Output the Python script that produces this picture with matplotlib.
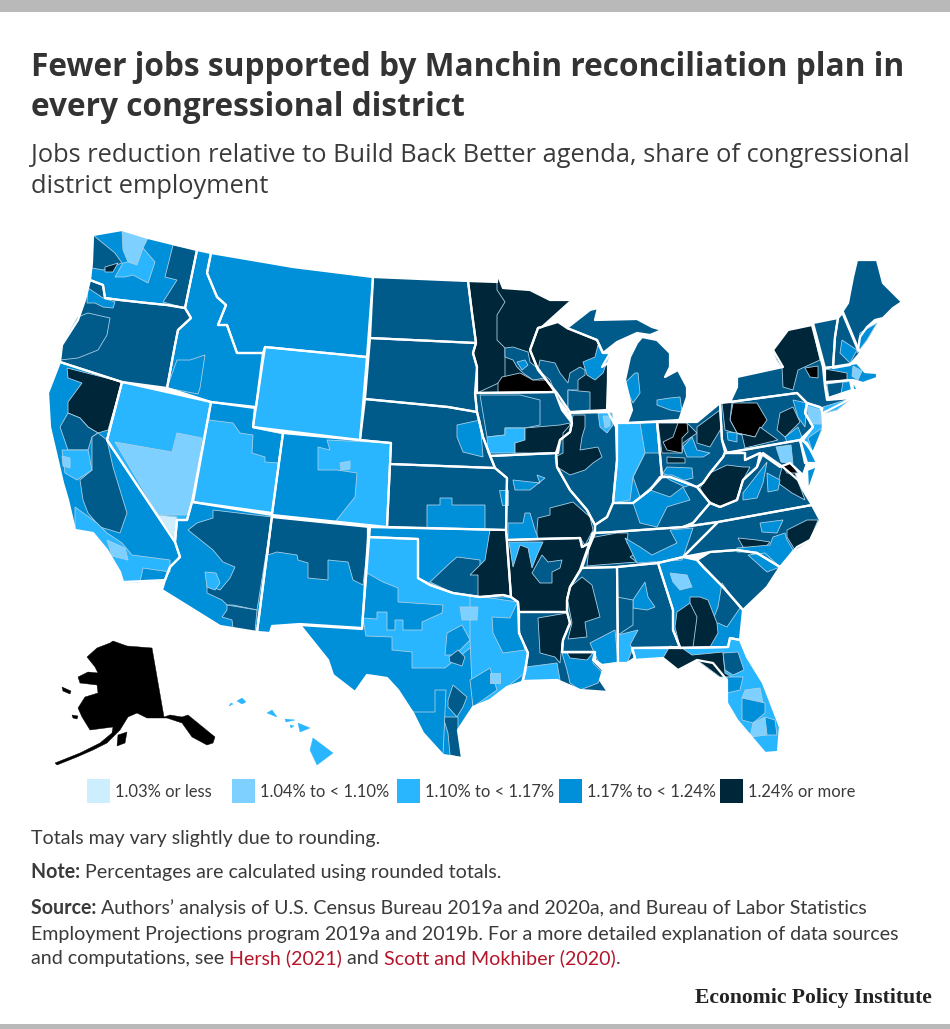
import matplotlib
matplotlib.use("Agg")
import matplotlib.pyplot as plt
from matplotlib.patches import Polygon, Rectangle

# colour classes, lightest to darkest (4 and 6 appear on the map only)
colors = ["#cceeff", "#7dd0ff", "#29b6ff", "#008fd9", "#005a8a", "#00263a", "#000000"]
legend_labels = ["1.03% or less", "1.04% to < 1.10%", "1.10% to < 1.17%", "1.17% to < 1.24%", "1.24% or more"]
legend_classes = [0, 1, 2, 3, 5]
legend_x = [87, 232, 397, 559, 720]

# state outlines in map units
wa = [(93,235),(122,230),(148,238),(197,250),(185,308),(167,305),(147,303),(120,300),(105,298),(103,285),(90,280),(92,262)]
or_ = [(90,280),(103,285),(105,298),(120,300),(147,303),(167,305),(185,308),(191,318),(178,330),(175,345),(167,388),(122,382),(60,362),(62,345),(78,320),(85,300)]
id_ = [(197,250),(211,253),(207,273),(217,297),(226,305),(218,325),(227,325),(237,353),(263,353),(256,407),(211,402),(167,388),(175,345),(178,330),(191,318),(185,308)]
mt = [(211,253),(293,267),(373,277),(367,357),(265,347),(263,353),(237,353),(227,325),(218,325),(226,305),(217,297),(207,273)]
wy = [(265,347),(367,357),(360,440),(253,427)]
nd = [(373,277),(468,281),(472,313),(476,343),(370,338)]
sd = [(370,338),(476,343),(473,353),(477,367),(475,393),(477,412),(448,407),(365,399)]
ne = [(365,399),(448,407),(477,412),(483,437),(495,468),(390,464),(391,443),(360,440)]
ks = [(390,464),(495,468),(507,478),(506,530),(387,527)]
ok = [(368,527),(506,530),(511,597),(503,595),(480,597),(453,593),(430,585),(418,578),(418,539),(368,537)]
tx = [(368,537),(418,539),(418,578),(430,585),(453,593),(480,597),(503,595),(511,597),(518,602),(519,633),(528,653),(525,673),(522,682),(507,687),(490,700),(473,707),(458,730),(462,758),(443,755),(423,733),(413,713),(398,690),(387,678),(367,675),(355,692),(333,675),(328,660),(312,640),(300,625),(362,629)]
nm = [(272,517),(370,527),(362,628),(300,624),(272,626),(270,633),(257,632)]
co = [(283,433),(391,443),(387,527),(272,515)]
ut = [(211,402),(255,408),(253,427),(283,433),(272,513),(193,502)]
az = [(192,502),(272,515),(257,632),(220,626),(162,590),(165,580),(170,567),(180,557),(175,542),(177,520),(187,520)]
nv = [(122,382),(211,402),(192,502),(187,520),(177,520),(175,542),(147,500),(107,440)]
ca = [(60,362),(122,382),(107,440),(147,500),(175,542),(180,557),(170,567),(165,580),(123,582),(120,572),(107,550),(93,533),(75,530),(68,500),(63,483),(50,427),(48,393)]
mn = [(468,281),(497,282),(497,273),(503,288),(530,290),(550,300),(572,300),(542,327),(538,328),(530,350),(537,367),(555,392),(477,393),(477,367),(473,353),(476,343),(472,313)]
ia = [(477,393),(555,392),(557,397),(562,410),(572,423),(570,432),(560,440),(558,453),(490,456),(483,437),(477,412),(475,393)]
mo = [(490,456),(556,453),(557,467),(570,490),(587,510),(595,525),(595,530),(590,543),(582,547),(580,538),(507,540),(506,530),(507,478),(495,468)]
ar = [(507,540),(580,538),(582,547),(590,543),(593,533),(587,550),(580,570),(570,587),(567,600),(567,612),(519,612),(518,602),(511,597)]
la = [(519,612),(567,612),(570,623),(563,640),(562,652),(595,652),(593,660),(603,670),(600,680),(608,692),(580,690),(557,680),(523,681),(528,653),(519,633)]
ms = [(582,568),(617,567),(618,663),(602,665),(595,660),(595,652),(562,652),(563,640),(570,623),(567,612),(567,600),(570,587)]
al = [(617,567),(658,563),(673,610),(673,630),(680,647),(632,648),(635,658),(627,663),(618,663)]
tn = [(582,568),(588,550),(595,533),(613,532),(683,527),(718,522),(710,530),(683,557),(658,563),(617,567)]
ky = [(595,533),(595,525),(607,517),(613,503),(633,503),(650,490),(660,477),(670,477),(697,487),(710,503),(693,523),(683,527),(613,532)]
il = [(570,413),(608,412),(616,427),(617,460),(613,503),(607,517),(595,525),(587,510),(570,490),(557,467),(556,453),(560,440),(570,432),(572,423)]
wi = [(538,328),(558,322),(567,328),(597,340),(603,353),(610,353),(602,367),(608,363),(608,380),(607,410),(570,412),(557,393),(538,370),(530,350)]
mi_up = [(567,328),(590,310),(598,308),(595,320),(637,319),(652,327),(662,330),(650,335),(637,333),(617,342),(603,353),(597,340)]
mi_lp = [(642,337),(657,340),(670,353),(670,367),(665,377),(678,370),(687,387),(687,397),(680,418),(679,420),(627,423),(632,410),(625,380),(630,357),(637,343)]
in_ = [(617,423),(627,423),(657,422),(662,477),(650,490),(633,503),(613,503),(617,460)]
oh = [(657,422),(683,422),(697,422),(720,403),(722,440),(725,452),(723,457),(710,473),(703,483),(697,487),(670,477),(662,477)]
pa = [(720,403),(730,402),(797,393),(807,403),(805,413),(813,427),(800,440),(727,453),(722,440)]
ny = [(730,402),(737,387),(737,377),(760,372),(783,367),(773,350),(788,330),(812,325),(823,367),(825,387),(827,400),(852,398),(823,413),(820,407),(807,403),(797,393)]
nj = [(807,403),(822,408),(823,430),(813,453),(803,440),(813,427),(805,413)]
vt = [(813,323),(838,318),(835,337),(833,367),(825,368)]
nh = [(838,318),(843,312),(860,353),(850,365),(833,368),(835,337)]
me = [(842,312),(848,303),(853,277),(857,260),(877,260),(883,283),(892,292),(902,302),(893,308),(883,318),(875,320),(867,327),(860,337),(858,350)]
ma = [(825,368),(857,363),(865,372),(877,373),(877,378),(863,383),(853,380),(825,382)]
ct = [(825,383),(850,380),(852,390),(828,398)]
ri = [(852,380),(858,390),(853,390)]
md = [(725,453),(800,440),(807,463),(803,475),(790,463),(780,467),(760,453),(745,460),(745,453)]
de = [(800,440),(807,443),(817,463),(805,463)]
va_shore = [(807,470),(817,466),(808,492)]
va = [(693,523),(710,503),(720,507),(737,500),(743,480),(757,467),(763,453),(783,467),(798,480),(803,490),(812,505),(718,522),(683,527)]
wv = [(725,453),(745,453),(745,460),(760,453),(757,467),(743,480),(737,500),(720,507),(710,503),(697,487),(703,483),(710,473),(723,457)]
nc = [(718,522),(812,505),(820,520),(810,540),(797,547),(780,567),(757,553),(737,550),(710,552),(683,557),(710,530)]
sc = [(697,560),(710,552),(737,550),(757,553),(780,567),(767,587),(743,610),(723,587),(703,567)]
ga = [(658,563),(683,557),(697,560),(723,587),(743,610),(740,640),(730,638),(728,647),(680,648),(673,630),(673,610)]
fl = [(632,648),(680,648),(728,647),(730,638),(740,640),(747,657),(763,683),(780,727),(778,752),(765,753),(737,720),(727,703),(727,680),(713,663),(697,660),(678,670),(663,658),(633,660),(635,658)]
ak = [(113,641),(127,646),(152,648),(164,717),(170,715),(182,717),(188,715),(215,737),(213,743),(207,745),(192,737),(182,723),(167,718),(147,718),(137,713),(128,717),(120,730),(107,743),(93,750),(77,757),(57,765),(55,763),(80,753),(100,743),(112,733),(113,727),(90,730),(82,717),(78,708),(85,697),(98,693),(97,685),(80,683),(78,677),(88,672),(98,673),(95,667),(87,657),(97,648),(110,643)]
ak_nunivak = [(62,687),(71,691),(70,694),(63,691)]
ak_kodiak = [(118,735),(127,732),(125,743),(117,746)]
ak_nelson = [(72,715),(78,716),(77,719),(73,718)]
hi_big = [(313,738),(333,753),(317,765),(310,750)]
hi_maui = [(298,723),(310,728),(300,732)]
hi_molokai = [(285,719),(295,720),(286,722)]
hi_lanai = [(290,725),(294,726),(291,728)]
hi_oahu = [(272,710),(277,717),(267,713)]
hi_kauai = [(242,698),(246,702),(242,704),(237,701)]
hi_niihau = [(231,703),(233,704),(229,706)]

state_classes = [(wa,3),(or_,4),(id_,3),(mt,3),(wy,2),(nd,4),(sd,4),(ne,4),(ks,4),(ok,3),(tx,3),(nm,3),(co,3),(ut,2),(az,3),(nv,2),(ca,3),
                 (mn,5),(ia,4),(mo,4),(ar,5),(la,4),(ms,4),(al,4),(tn,4),(ky,4),(il,4),(wi,5),(mi_up,4),(mi_lp,4),(in_,3),(oh,4),(pa,4),
                 (ny,4),(nj,2),(vt,4),(nh,4),(me,4),(ma,3),(ct,3),(ri,3),(md,4),(de,3),(va_shore,3),(va,4),(wv,4),(nc,4),(sc,4),(ga,3),(fl,2)]
island_classes = [(ak,6),(ak_nunivak,6),(ak_kodiak,6),(ak_nelson,6),(hi_big,2),(hi_maui,2),(hi_molokai,2),(hi_lanai,2),(hi_oahu,2),(hi_kauai,2),(hi_niihau,2)]

# congressional districts (or groups of them) that differ from the state's base class
west_districts = [
    (4,[(93,235),(115,253),(122,263),(103,270),(92,268)]),
    (1,[(122,230),(148,238),(143,248),(137,265),(128,262),(123,250)]),
    (2,[(143,248),(155,262),(148,283),(133,275),(125,277),(115,277),(123,263),(128,262),(137,265)]),
    (5,[(105,267),(118,263),(113,272),(105,272)]),
    (4,[(173,245),(197,250),(185,308),(163,302),(177,280),(165,277)]),
    (3,[(88,288),(103,298),(115,302),(113,308),(103,307),(95,303),(87,303)]),
    (4,[(78,317),(88,313),(110,318),(107,335),(98,350),(78,358),(60,360),(62,345)]),
    (5,[(67,368),(122,382),(108,430),(98,433),(88,427),(80,418),(68,413),(68,402),(82,383),(68,378)]),
    (4,[(68,413),(80,418),(88,427),(98,433),(92,437),(88,450),(68,450),(60,427)]),
    (4,[(98,433),(107,440),(113,467),(127,513),(120,533),(100,527),(88,513),(83,500),(80,480),(92,470),(92,437)]),
    (2,[(62,450),(88,450),(92,470),(77,480),(65,473)]),
    (1,[(62,456),(70,458),(70,468),(63,466)]),
    (2,[(75,507),(97,523),(107,533),(122,543),(132,555),(170,560),(170,572),(143,568),(140,582),(123,582),(120,572),(107,550),(93,533),(75,530)]),
    (1,[(107,540),(125,548),(128,560),(112,556)]),
    (1,[(115,442),(172,452),(177,433),(202,438),(192,502),(187,515),(158,515)]),
    (0,[(158,515),(177,517),(175,540)]),
    (3,[(211,402),(255,408),(253,428),(283,434),(278,463),(265,462),(265,457),(252,453),(253,435),(240,433),(233,423),(209,420)]),
    (3,[(167,388),(177,360),(190,360),(205,355),(200,388),(198,394)]),
    (2,[(327,440),(391,443),(387,527),(335,522),(355,497),(357,473),(337,470),(318,470),(318,447),(330,450)]),
    (1,[(340,463),(350,461),(350,469),(341,470)]),
    (4,[(272,517),(370,527),(363,585),(353,580),(348,562),(328,560),(328,580),(308,578),(308,563),(298,560),(297,555),(277,552),(268,555)]),
    (4,[(213,510),(272,517),(257,610),(233,605),(227,605),(222,600),(207,593),(207,585),(220,590),(230,578),(235,567),(223,562),(213,550),(188,530),(197,523),(213,518)]),
    (4,[(227,605),(257,610),(255,632),(233,628),(232,620),(222,617),(227,610)]),
    (2,[(205,572),(216,573),(220,583),(215,590),(207,587)]),
]
plains_districts = [
    (3,[(457,425),(480,420),(483,457),(463,452),(457,437)]),
    (3,[(427,505),(440,505),(440,498),(452,498),(452,505),(485,505),(485,530),(427,528)]),
    (4,[(430,582),(450,563),(457,557),(480,560),(480,597),(453,593)]),
    (5,[(478,597),(478,575),(470,575),(485,560),(490,530),(506,530),(511,597)]),
    (2,[(368,537),(418,539),(418,578),(453,593),(480,597),(480,640),(445,668),(412,668),(412,652),(392,650),(392,637),(366,636),(363,619)]),
    (3,[(367,573),(383,582),(398,588),(398,602),(443,605),(442,613),(422,622),(422,630),(403,630),(403,620),(395,620),(395,630),(387,630),(387,612),(377,612),(377,619),(363,618)]),
    (2,[(470,595),(518,602),(519,633),(528,653),(525,673),(507,687),(490,700),(473,707),(470,640)]),
    (3,[(492,617),(510,618),(517,603),(520,633),(525,650),(503,653),(498,643),(493,633)]),
    (3,[(447,633),(462,625),(470,640),(455,655),(445,655)]),
    (4,[(458,650),(465,657),(462,666),(450,662),(449,657)]),
    (4,[(453,685),(467,697),(463,707),(457,717),(448,707),(448,700)]),
    (4,[(443,717),(458,717),(458,730),(462,758),(450,755),(448,733)]),
    (3,[(470,680),(490,668),(497,690),(473,707)]),
    (1,[(460,607),(478,607),(477,620),(462,620)]),
    (1,[(490,673),(500,673),(500,683),(490,683)]),
    (3,[(413,712),(435,712),(435,690),(446,690),(443,755),(423,733)]),
]
midwest_districts = [
    (5,[(497,290),(505,302),(497,315),(497,340),(505,348),(505,380),(477,393),(477,367),(473,353),(476,343),(472,313),(468,281),(497,282)]),
    (6,[(498,383),(502,377),(520,373),(533,380),(547,380),(554,392),(498,393)]),
    (4,[(505,348),(513,347),(528,352),(530,362),(537,368),(545,378),(533,380),(523,373),(517,367),(513,360),(505,357)]),
    (3,[(517,362),(525,360),(528,365),(522,370)]),
    (4,[(480,395),(520,395),(540,400),(540,425),(525,428),(505,428),(505,435),(487,437)]),
    (2,[(487,437),(505,435),(505,428),(525,428),(525,442),(515,443),(515,453),(488,453)]),
    (5,[(515,453),(515,443),(525,440),(525,428),(560,425),(570,423),(568,433),(560,440),(557,453)]),
    (5,[(537,530),(538,518),(550,515),(550,508),(573,502),(590,517),(593,530),(585,545),(580,538),(537,538)]),
    (3,[(508,523),(523,523),(525,513),(530,513),(535,530),(538,538),(508,540)]),
    (3,[(499,490),(508,490),(508,505),(502,505)]),
    (3,[(513,480),(540,483),(537,475),(545,478),(530,490),(515,490)]),
    (5,[(557,467),(555,457),(563,453),(563,433),(572,423),(573,415),(585,415),(585,427),(582,437),(580,450),(598,447),(602,457),(593,463),(585,470),(570,475)]),
    (2,[(598,413),(612,413),(613,425),(607,433),(600,427)]),
    (1,[(603,416),(610,416),(610,426),(605,428)]),
    (3,[(583,362),(595,357),(598,345),(602,353),(610,353),(603,373),(595,380),(587,375)]),
    (4,[(540,360),(555,363),(560,373),(568,383),(570,373),(580,367),(585,370),(585,375),(578,380),(578,390),(568,390),(568,410),(557,397),(550,380),(538,370)]),
    (4,[(568,390),(590,392),(590,410),(568,412)]),
    (3,[(625,383),(635,373),(638,373),(640,393),(633,403),(630,397)]),
    (3,[(657,400),(670,398),(680,397),(682,412),(670,410),(657,405)]),
    (4,[(645,453),(660,453),(662,477),(640,497),(633,477)]),
    (2,[(617,423),(640,423),(645,453),(633,477),(630,500),(613,503),(617,460)]),
    (5,[(658,423),(680,423),(687,423),(697,433),(683,443),(682,453),(662,453)]),
    (6,[(663,442),(673,437),(678,423),(687,423),(688,432),(682,438),(682,453),(667,450)]),
    (5,[(697,427),(720,410),(722,427),(710,447),(697,443)]),
    (3,[(667,467),(692,468),(693,478),(677,482),(663,473)]),
    (3,[(683,447),(692,437),(697,450),(710,453),(703,457),(687,457)]),
    (5,[(667,457),(685,458),(685,463),(667,463)]),
]
east_districts = [
    (6,[(730,420),(733,403),(757,403),(767,420),(755,437),(737,433)]),
    (5,[(722,403),(732,402),(730,420),(737,433),(755,437),(760,427),(778,440),(745,448),(742,435),(725,430)]),
    (5,[(780,413),(793,407),(800,422),(785,437),(777,430)]),
    (3,[(793,400),(807,403),(805,427),(798,417)]),
    (3,[(727,432),(737,433),(737,442),(728,440)]),
    (3,[(785,437),(798,427),(803,440),(787,442)]),
    (5,[(773,350),(788,330),(812,325),(820,360),(798,370),(793,390),(783,387),(782,367),(777,360)]),
    (6,[(805,368),(818,366),(818,378),(810,377)]),
    (2,[(823,407),(852,398),(837,410),(825,413)]),
    (1,[(807,406),(821,410),(821,424),(810,424)]),
    (3,[(808,438),(822,428),(813,453)]),
    (3,[(860,333),(877,323),(867,340),(857,353)]),
    (3,[(842,340),(857,350),(850,363),(840,353)]),
    (5,[(825,369),(847,373),(847,382),(825,382)]),
    (4,[(827,384),(843,382),(841,394),(829,398)]),
    (1,[(853,366),(862,371),(858,380),(852,376)]),
    (5,[(782,467),(790,463),(795,473),(805,500),(792,493),(778,483)]),
    (6,[(782,465),(790,463),(798,473),(787,473)]),
    (1,[(776,447),(791,445),(793,464),(781,462)]),
    (3,[(743,493),(767,462),(763,483),(757,498),(743,500)]),
    (3,[(767,473),(780,480),(778,490),(768,492)]),
    (5,[(700,488),(710,473),(727,465),(743,467),(750,467),(743,480),(737,500),(720,507),(707,500)]),
    (3,[(633,503),(650,490),(670,497),(683,487),(690,500),(673,505),(667,507),(657,527),(640,523)]),
    (3,[(663,475),(672,475),(692,484),(685,487),(670,480)]),
    (5,[(787,530),(807,520),(818,520),(810,540),(795,550),(787,537)]),
    (5,[(738,538),(757,540),(770,542),(763,550),(743,547)]),
    (3,[(737,548),(770,545),(773,537),(785,533),(787,540),(793,550),(780,567),(757,552),(737,552)]),
    (3,[(760,523),(783,520),(777,533),(762,532)]),
    (5,[(590,538),(617,533),(628,533),(627,543),(640,550),(630,557),(637,562),(598,565),(587,566)]),
    (3,[(625,538),(640,547),(652,555),(677,543),(670,530),(693,528),(690,537),(682,560),(637,563)]),
    (3,[(748,555),(765,553),(780,567),(767,572)]),
]
south_districts = [
    (4,[(722,583),(740,608),(727,627),(718,623),(708,632),(718,607)]),
    (5,[(690,597),(700,597),(708,600),(717,623),(718,633),(710,647),(690,647),(693,620),(690,605)]),
    (5,[(677,612),(690,603),(697,617),(693,647),(680,647),(675,627)]),
    (1,[(670,573),(687,575),(692,587),(680,590),(673,582)]),
    (3,[(633,600),(645,582),(648,597),(655,607),(647,610),(633,608)]),
    (4,[(617,597),(633,600),(633,625),(618,635)]),
    (2,[(618,635),(638,630),(630,645),(633,648),(627,663),(618,663)]),
    (5,[(663,658),(670,646),(682,648),(692,655),(723,652),(725,673),(732,677),(720,677),(697,660),(678,670)]),
    (4,[(723,653),(738,652),(744,670),(733,675),(725,670)]),
    (1,[(745,690),(760,688),(763,703),(742,698)]),
    (3,[(742,698),(765,703),(765,713),(753,723),(742,720)]),
    (1,[(753,723),(765,717),(767,735),(750,737)]),
    (3,[(765,717),(775,720),(777,735),(767,735)]),
    (3,[(727,677),(743,677),(740,690),(727,693)]),
    (5,[(567,597),(570,587),(582,577),(592,585),(600,617),(585,622),(587,637),(568,639),(572,623)]),
    (3,[(590,643),(615,630),(618,662),(600,665),(593,650)]),
    (4,[(532,573),(542,555),(548,562),(562,560),(560,568),(552,572),(552,583),(540,583)]),
    (2,[(509,542),(543,542),(537,555),(532,568),(528,548),(520,545),(513,567)]),
    (5,[(538,618),(567,613),(570,625),(562,643),(560,663),(555,657),(540,653)]),
    (2,[(526,667),(557,663),(560,680),(557,680),(523,681)]),
    (3,[(562,653),(595,653),(593,663),(603,673),(598,683),(580,690),(570,683),(567,670)]),
    (5,[(567,653),(593,653),(587,660),(570,658)]),
]

title_lines = ["Fewer jobs supported by Manchin reconciliation plan in", "every congressional district"]
subtitle_lines = ["Jobs reduction relative to Build Back Better agenda, share of congressional", "district employment"]

plt.rcParams["font.family"] = ["Lato", "DejaVu Sans"]
fig = plt.figure(figsize=(9.5, 10.29), dpi=100)
ax = fig.add_axes([0, 0, 1, 1])
ax.set_xlim(0, 950)
ax.set_ylim(1029, 0)
ax.axis("off")

# grey bars top and bottom
ax.add_patch(Rectangle((0, 0), 950, 12, color="#b9b9b9", lw=0))
ax.add_patch(Rectangle((0, 1024), 950, 5, color="#b9b9b9", lw=0))

for pts, c in state_classes + island_classes:
    ax.add_patch(Polygon(pts, closed=True, fc=colors[c], ec=colors[c], lw=0.3))

for group in [west_districts, plains_districts, midwest_districts, east_districts, south_districts]:
    for c, pts in group:
        ax.add_patch(Polygon(pts, closed=True, fc=colors[c], ec="#a9cfe4", lw=0.6))

# state borders on top
for pts, c in state_classes:
    ax.add_patch(Polygon(pts, closed=True, fc="none", ec="white", lw=1.6, joinstyle="round"))


def runs(x, y, parts, size=14.1):
    # draw bits of text one after the other on a line
    r = fig.canvas.get_renderer()
    for s, weight, col in parts:
        t = ax.text(x, y, s, fontsize=size, fontweight=weight, color=col, va="baseline", ha="left")
        x += t.get_window_extent(r).width


ink = "#3a3a3a"
for s, y in zip(title_lines, [76, 116]):
    ax.text(31, y, s, fontsize=22.8, fontweight="bold", color="#333333", va="baseline", family="Open Sans")
for s, y in zip(subtitle_lines, [162, 193]):
    ax.text(31, y, s, fontsize=18.3, color=ink, va="baseline", family="Open Sans")

for x, lab, c in zip(legend_x, legend_labels, legend_classes):
    ax.add_patch(Rectangle((x, 779), 23, 24, fc=colors[c], ec="none"))
    ax.text(x + 28, 797, lab, fontsize=11.9, color=ink, va="baseline")

red = "#b5152b"
runs(31, 844, [("Totals may vary slightly due to rounding.", "normal", ink)])
runs(31, 878, [("Note: ", "bold", ink), ("Percentages are calculated using rounded totals.", "normal", ink)])
runs(31, 914, [("Source: ", "bold", ink), ("Authors’ analysis of U.S. Census Bureau 2019a and 2020a, and Bureau of Labor Statistics", "normal", ink)])
runs(31, 940, [("Employment Projections program 2019a and 2019b. For a more detailed explanation of data sources", "normal", ink)])
runs(31, 964, [("and computations, see ", "normal", ink), ("Hersh (2021)", "normal", red), (" and ", "normal", ink),
               ("Scott and Mokhiber (2020)", "normal", red), (".", "normal", ink)])
ax.text(932, 1003, "Economic Policy Institute", fontsize=15.6, fontweight="bold", color="#222222",
        family="Liberation Serif", ha="right", va="baseline")

fig.savefig("out.png", dpi=100)
